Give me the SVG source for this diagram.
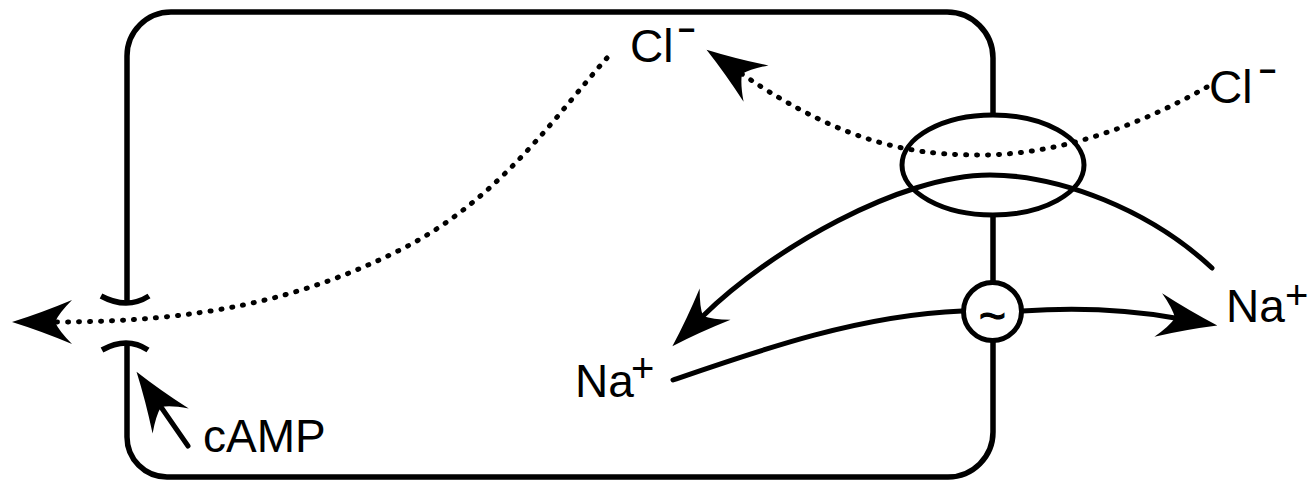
<svg xmlns="http://www.w3.org/2000/svg" width="1316" height="482" viewBox="0 0 1316 482">
<style>
.ln{fill:none;stroke:#000;stroke-width:5;stroke-linecap:round}
.mem{fill:none;stroke:#000;stroke-width:5.5}
.dot{fill:none;stroke:#000;stroke-width:5;stroke-linecap:round;stroke-dasharray:1 10}
.node{fill:#fff;stroke:#000;stroke-width:5}
.lbl{font-family:"Liberation Sans",Arial,sans-serif;font-size:46px;fill:#000}
.sup{font-size:40px}
.minus{font-size:30px;font-weight:bold}
.tilde{font-family:"Liberation Sans",Arial,sans-serif;font-size:46px;fill:#000;stroke:#000;stroke-width:1.2}
</style>
<defs>
<marker id="ah" markerUnits="userSpaceOnUse" orient="auto" viewBox="-62 -24 66 48" refX="-42" refY="0" markerWidth="66" markerHeight="48" overflow="visible">
<path d="M1,0 Q-28,-9 -59,-22 Q-46,-9 -42,0 Q-46,9 -59,22 Q-28,9 1,0 Z" fill="#000"/>
</marker>
</defs>
<rect width="1316" height="482" fill="#fff"/>
<g id="cell">
<path class="mem" d="M127 303 L127 56 A44 44 0 0 1 171 12 L947 12 A46 46 0 0 1 993 58 L993 432 A45 45 0 0 1 948 477 L167 477 A40 40 0 0 1 127 437 L127 343"/>
<path class="mem" d="M101 296 Q127 310 149 296"/>
<path class="mem" d="M102 350 Q127 336 148 350"/>
</g>
<g id="channel">
<ellipse class="node" cx="993" cy="165" rx="91" ry="50"/>
</g>
<g id="pump">
<circle class="node" cx="992.5" cy="311.5" r="29"/>
<text class="tilde" x="992.5" y="332" text-anchor="middle">~</text>
</g>
<g id="connectors">
<path class="dot" d="M607 58 C560 110 500 200 400 250 C300 300 200 322 55 322" marker-end="url(#ah)"/>
<path class="dot" d="M1207 87 C1140 125 1060 155 980 155 C920 155 850 148 742 74" marker-end="url(#ah)"/>
<path class="ln" d="M1212 268 C1150 210 1060 175 990 175 C900 175 770 250 703 316" marker-end="url(#ah)"/>
<path class="ln" d="M673 380 C760 350 860 315 962 311"/>
<path class="ln" d="M1022 311 C1080 307 1130 310 1175 318" marker-end="url(#ah)"/>
<path class="ln" d="M188 446 L161 407" marker-end="url(#ah)"/>
</g>
<g id="label-cl-top">
<text class="lbl" x="630" y="62">Cl<tspan class="minus" x="678" y="40">−</tspan></text>
</g>
<g id="label-cl-right">
<text class="lbl" x="1209" y="103">Cl<tspan class="minus" x="1259" y="81">−</tspan></text>
</g>
<g id="label-na-right">
<text class="lbl" x="1226" y="322">Na<tspan class="sup" x="1285" y="309">+</tspan></text>
</g>
<g id="label-na-left">
<text class="lbl" x="575" y="397">Na<tspan class="sup" x="631" y="382">+</tspan></text>
</g>
<g id="label-camp">
<text class="lbl" x="203" y="452">cAMP</text>
</g>
</svg>
